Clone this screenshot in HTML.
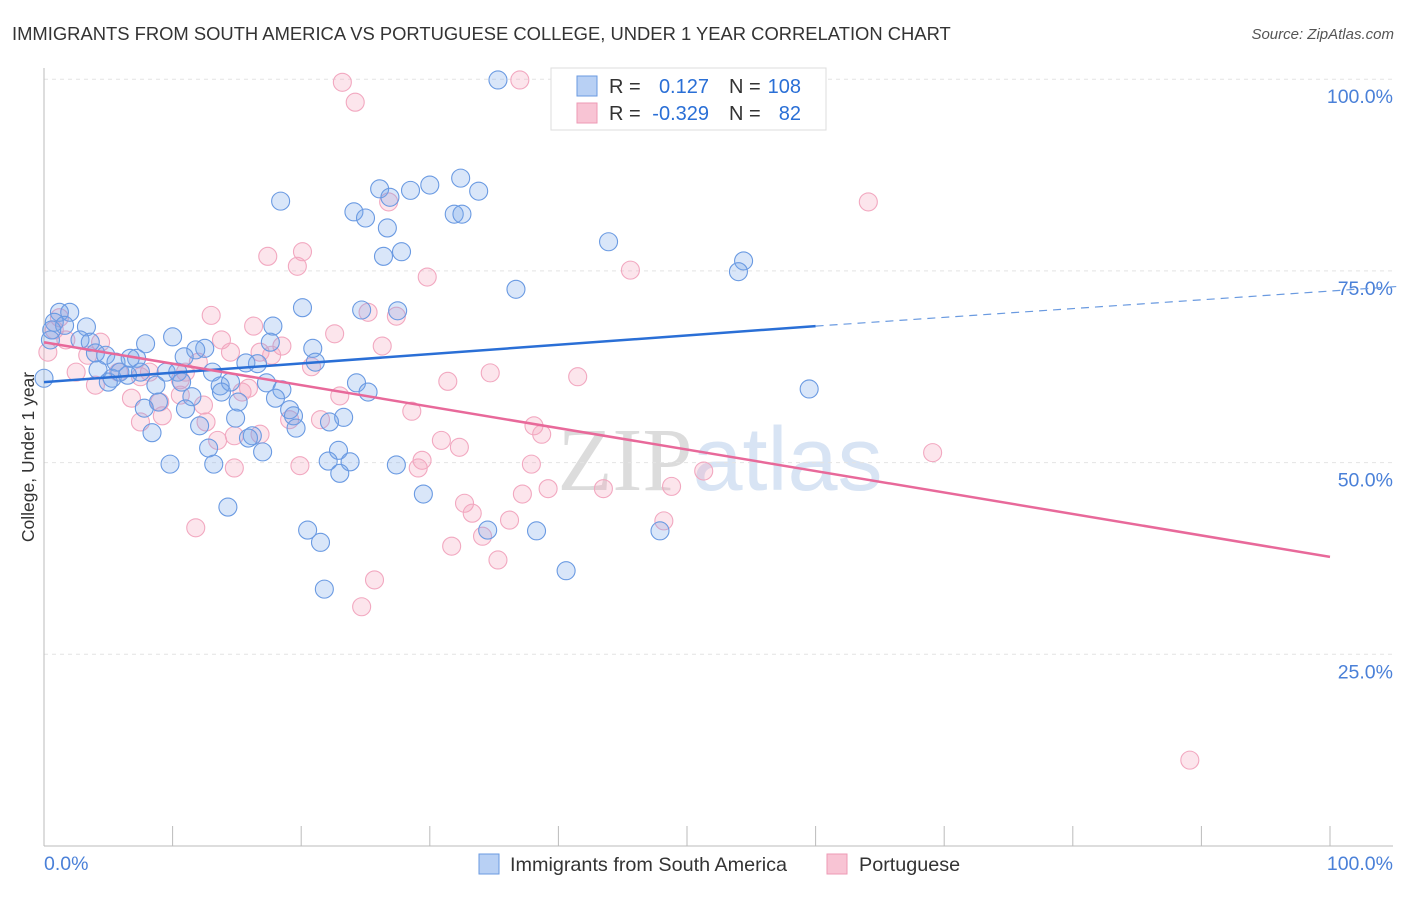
<!DOCTYPE html>
<html><head><meta charset="utf-8"><style>
body{margin:0;background:#fff;font-family:"Liberation Sans",sans-serif;}
svg text{font-family:"Liberation Sans",sans-serif;}
</style></head><body>
<svg id="c" width="1406" height="892">
<text x="12" y="40" font-size="18.4" fill="#333">IMMIGRANTS FROM SOUTH AMERICA VS PORTUGUESE COLLEGE, UNDER 1 YEAR CORRELATION CHART</text>
<text x="1394" y="39" font-size="15" fill="#555" font-style="italic" text-anchor="end">Source: ZipAtlas.com</text>
<text x="720" y="490" font-size="90" fill="#e6e6e6" text-anchor="middle"><tspan font-family="Liberation Serif" fill="#dcdcdc">ZIP</tspan><tspan fill="#d8e4f4">atlas</tspan></text>
<g id="grid"></g>
<g id="pts"></g>
<g id="lines"></g>
<text transform="translate(34,457) rotate(-90)" font-size="17.5" fill="#333" text-anchor="middle">College, Under 1 year</text>
<g>
<rect x="551" y="68" width="275" height="62" fill="#fff" stroke="#ddd"/>
<rect x="577" y="76" width="20" height="20" fill="#b8d0f4" stroke="#6a9ae0"/>
<rect x="577" y="103" width="20" height="20" fill="#f8c4d4" stroke="#ee9ab5"/>
<text y="93" font-size="20" fill="#333"><tspan x="609">R =</tspan><tspan x="709" text-anchor="end" fill="#2a6fd6">0.127</tspan><tspan x="729">N =</tspan><tspan x="801" text-anchor="end" fill="#2a6fd6">108</tspan></text>
<text y="120" font-size="20" fill="#333"><tspan x="609">R =</tspan><tspan x="709" text-anchor="end" fill="#2a6fd6">-0.329</tspan><tspan x="729">N =</tspan><tspan x="801" text-anchor="end" fill="#2a6fd6">82</tspan></text>
</g>
<g>
<rect x="479" y="854" width="20" height="20" fill="#b8d0f4" stroke="#6a9ae0"/>
<text x="510" y="871" font-size="19.8" fill="#333">Immigrants from South America</text>
<rect x="827" y="854" width="20" height="20" fill="#f8c4d4" stroke="#ee9ab5"/>
<text x="859" y="871" font-size="19.8" fill="#333">Portuguese</text>
</g>
</svg>
<script>
const blueX=[35.3,32.4,33.8,30.0,28.5,26.1,26.9,31.9,32.5,24.1,25.0,18.4,26.7,27.8,26.4,43.9,54.4,54.0,36.7,20.1,24.7,27.5,17.6,17.8,20.9,21.1,16.6,15.7,59.5,24.3,25.2,1.2,2.0,0.8,1.6,3.3,0.6,2.8,3.6,4.0,4.8,7.9,10.0,12.5,11.8,10.9,7.2,6.7,5.6,4.2,5.3,5.0,5.9,6.5,7.5,9.5,10.4,13.1,8.7,10.7,13.7,17.3,18.5,14.5,13.8,11.5,15.1,8.9,18.0,7.8,11.0,19.1,14.9,19.4,19.6,23.3,22.2,8.4,12.1,17.0,16.2,15.9,12.8,22.9,22.1,23.8,9.8,13.2,23.0,27.4,29.5,14.3,20.5,21.5,34.5,38.3,47.9,40.6,21.8,0,0.5];
const blueY=[99.9,87.1,85.4,86.2,85.5,85.7,84.6,82.4,82.4,82.7,81.9,84.1,80.6,77.5,76.9,78.8,76.3,74.9,72.6,70.2,69.9,69.8,65.7,67.8,64.9,63.1,62.9,63.0,59.6,60.4,59.2,69.6,69.6,68.3,67.9,67.7,67.3,66.0,65.7,64.3,64.0,65.5,66.4,64.9,64.7,63.8,63.6,63.6,63.1,62.1,61.0,60.5,61.8,61.4,61.8,61.8,61.8,61.8,60.1,60.5,60.0,60.4,59.5,60.5,59.2,58.6,57.9,57.9,58.4,57.1,57.0,56.9,55.8,56.1,54.5,55.9,55.3,53.9,54.8,51.4,53.5,53.2,51.9,51.6,50.2,50.1,49.8,49.8,48.6,49.7,45.9,44.2,41.2,39.6,41.2,41.1,41.1,35.9,33.5,61.0,66.0];
const pinkX=[23.2,37.0,24.2,64.1,26.8,20.1,17.4,19.7,29.8,45.6,13.0,16.3,13.8,16.8,18.5,22.6,25.2,27.4,26.3,1.2,0.8,1.7,4.4,3.4,2.5,4.0,5.8,8.2,11.0,14.5,12.0,17.7,15.9,15.4,20.8,6.8,9.0,10.6,12.4,7.5,9.2,12.6,19.1,21.5,23.0,31.4,34.7,41.5,28.6,16.8,14.8,13.5,19.9,14.8,29.4,29.1,30.9,32.3,38.1,38.7,37.9,51.3,69.1,48.8,43.5,39.2,37.2,32.7,33.3,36.2,48.2,34.1,31.7,11.8,35.3,25.7,24.7,89.1,0.3,7.5,10.6];
const pinkY=[99.6,99.9,97.0,84.0,84.0,77.5,76.9,75.6,74.2,75.1,69.2,67.8,66.0,64.4,65.2,66.8,69.6,69.1,65.2,68.9,67.3,66.0,65.7,64.0,61.8,60.1,61.8,61.8,61.8,64.4,63.1,64.0,59.7,59.2,62.5,58.4,57.9,58.8,57.5,55.3,56.1,55.3,55.6,55.6,58.7,60.6,61.7,61.2,56.7,53.7,53.5,52.9,49.6,49.3,50.3,49.3,52.9,52.0,54.8,53.7,49.8,48.9,51.3,46.9,46.6,46.6,45.9,44.7,43.4,42.5,42.4,40.4,39.1,41.5,37.3,34.7,31.2,11.2,64.4,61.2,60.8];
const yTicks=[25,50,75,100];
const yTickLabels=["25.0%","50.0%","75.0%","100.0%"];
const xTicks=[0,10,20,30,40,50,60,70,80,90,100];
const blueTrend=[[0,60.5],[60,67.8],[105.5,73.0]];
const pinkTrend=[[0,65.7],[100,37.7]];
const NS="http://www.w3.org/2000/svg";
const sx=v=>44+v*12.86, sy=v=>846-v*7.668;
function mk(t,a,p){const e=document.createElementNS(NS,t);for(const k in a)e.setAttribute(k,a[k]);p.appendChild(e);return e;}
const grid=document.getElementById('grid');
yTicks.forEach((t,i)=>{
 const l=mk('line',{x1:44,x2:1393,y1:sy(t),y2:sy(t),stroke:'#e4e4e4','stroke-dasharray':'4,4'},grid);
 
 
 const tx=mk('text',{x:1393,y:sy(t)+24,'font-size':19.5,fill:'#4a80d8','text-anchor':'end'},grid);
 tx.textContent=yTickLabels[i];
 
 
});
const ax=mk('line',{x1:44,x2:44,y1:68,y2:846,stroke:'#bbb'},grid);


const bx=mk('line',{x1:44,x2:1393,y1:846,y2:846,stroke:'#bbb'},grid);


xTicks.forEach(t=>{const l=mk('line',{x1:sx(t),x2:sx(t),y1:826,y2:846,stroke:'#bbb'},grid);
 
 });
[[0,"0.0%","start",44],[100,"100.0%","end",1393]].forEach(d=>{const t=mk('text',{x:d[3],y:870,'font-size':19.5,fill:'#4a80d8','text-anchor':d[2]},grid);t.textContent=d[1];
 
 });
const pts=document.getElementById('pts');
pinkX.forEach((x,i)=>{const c=mk('circle',{cx:sx(x),cy:sy(pinkY[i]),r:9,fill:'rgba(244,160,188,0.28)',stroke:'#f2a8c0','stroke-width':1.1},pts);
 
 });
blueX.forEach((x,i)=>{const c=mk('circle',{cx:sx(x),cy:sy(blueY[i]),r:9,fill:'rgba(120,165,235,0.28)',stroke:'#6a9ae2','stroke-width':1.1},pts);
 
 });
const ln=document.getElementById('lines');
const b1=mk('line',{x1:sx(blueTrend[0][0]),y1:sy(blueTrend[0][1]),x2:sx(blueTrend[1][0]),y2:sy(blueTrend[1][1]),stroke:'#2a6fd6','stroke-width':2.5},ln);


const b2=mk('line',{x1:sx(blueTrend[1][0]),y1:sy(blueTrend[1][1]),x2:sx(blueTrend[2][0]),y2:sy(blueTrend[2][1]),stroke:'#6a9ae0','stroke-width':1.2,'stroke-dasharray':'8,6'},ln);


const p1=mk('line',{x1:sx(pinkTrend[0][0]),y1:sy(pinkTrend[0][1]),x2:sx(pinkTrend[1][0]),y2:sy(pinkTrend[1][1]),stroke:'#e8699a','stroke-width':2.5},ln);


</script>
</body></html>
